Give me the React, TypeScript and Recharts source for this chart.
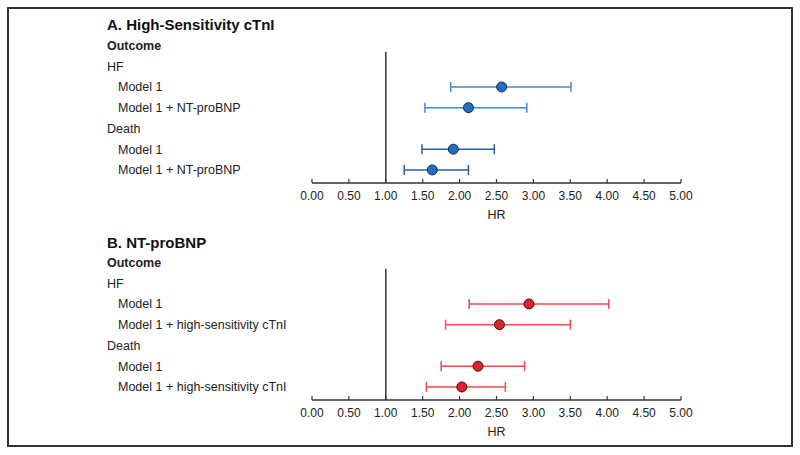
import React from "react";
import { ScatterChart, Scatter, XAxis, YAxis, ErrorBar, ReferenceLine } from "recharts";

const HR_TICKS = [0, 0.5, 1, 1.5, 2, 2.5, 3, 3.5, 4, 4.5, 5];

// row index of each label, top to bottom
const ROWS = [0, 1, 2, 3, 4, 5, 6];
const EST_ROWS = [2, 3, 5, 6];

const LABELS_A = ["Outcome", "HF", "Model 1", "Model 1 + NT-proBNP", "Death", "Model 1", "Model 1 + NT-proBNP"];
const LABELS_B = ["Outcome", "HF", "Model 1", "Model 1 + high-sensitivity cTnI", "Death", "Model 1", "Model 1 + high-sensitivity cTnI"];

const HR_A = [2.57, 2.12, 1.915, 1.63];
const LO_A = [1.88, 1.53, 1.49, 1.25];
const HI_A = [3.51, 2.91, 2.47, 2.12];

const HR_B = [2.94, 2.54, 2.25, 2.03];
const LO_B = [2.13, 1.81, 1.75, 1.55];
const HI_B = [4.02, 3.5, 2.88, 2.62];

const FONT = '"Liberation Sans", Arial, sans-serif';
const INK = "#222";

const toRows = (hr: number[], lo: number[], hi: number[]) =>
  hr.map((v, i) => ({ row: EST_ROWS[i], hr: v, err: [v - lo[i], hi[i] - v] }));

function RowTick({ x, y, payload, labels }: any) {
  const i = payload.value;
  const header = i === 0 || i === 1 || i === 4;
  return (
    <text
      x={header ? 98 : 109}
      y={y}
      dy="0.35em"
      textAnchor="start"
      fontFamily={FONT}
      fontSize={12.5}
      fontWeight={i === 0 ? 700 : 400}
      fill={INK}
    >
      {labels[i]}
    </text>
  );
}

function Dot({ cx, cy, fill, edge }: any) {
  return <circle cx={cx} cy={cy} r={5} fill={fill} stroke={edge} strokeWidth={1} />;
}

interface PanelProps {
  labels: string[];
  hr: number[];
  lo: number[];
  hi: number[];
  lineTop: string;
  lineBottom: string;
  dot: string;
  edge: string;
}

function ForestPanel({ labels, hr, lo, hi, lineTop, lineBottom, dot, edge }: PanelProps) {
  const data = toRows(hr, lo, hi);
  const hf = data.slice(0, 2);
  const death = data.slice(2);
  return (
    <ScatterChart width={782} height={217} margin={{ top: 24, right: 110, bottom: 0, left: 0 }}>
      <XAxis
        type="number"
        dataKey="hr"
        domain={[0, 5]}
        ticks={HR_TICKS}
        tickFormatter={(v: number) => v.toFixed(2)}
        allowDataOverflow
        height={43}
        tickSize={-4}
        tickMargin={12}
        axisLine={{ stroke: "#333", strokeWidth: 1.5 }}
        tickLine={{ stroke: "#333", strokeWidth: 1.2 }}
        tick={{ fill: INK, fontSize: 12, fontFamily: FONT }}
        interval={0}
        label={{ value: "HR", position: "insideBottom", offset: 7, fill: INK, fontSize: 12.5, fontFamily: FONT }}
      />
      <YAxis
        type="number"
        dataKey="row"
        domain={[-0.6, 6.63]}
        ticks={ROWS}
        reversed
        interval={0}
        width={303}
        axisLine={false}
        tickLine={false}
        tick={<RowTick labels={labels} />}
      />
      <ReferenceLine
        segment={[{ x: 1, y: 0.3 }, { x: 1, y: 6.63 }]}
        stroke="#333"
        strokeWidth={1.5}
      />
      <Scatter data={hf} isAnimationActive={false} shape={<Dot fill={dot} edge={edge} />}>
        <ErrorBar dataKey="err" direction="x" width={5} stroke={lineTop} strokeWidth={1.5} />
      </Scatter>
      <Scatter data={death} isAnimationActive={false} shape={<Dot fill={dot} edge={edge} />}>
        <ErrorBar dataKey="err" direction="x" width={5} stroke={lineBottom} strokeWidth={1.5} />
      </Scatter>
    </ScatterChart>
  );
}

const titleStyle: React.CSSProperties = {
  position: "absolute",
  left: 98,
  fontFamily: FONT,
  fontSize: 15,
  fontWeight: 700,
  lineHeight: "18px",
  color: "#111",
};

export default function App() {
  return (
    <div
      style={{
        position: "absolute",
        left: 7,
        top: 7,
        width: 786,
        height: 440,
        border: "2px solid #333",
        boxSizing: "border-box",
        background: "#fff",
      }}
    >
      <div style={{ position: "absolute", left: 0, top: 0 }}>
        <ForestPanel
          labels={LABELS_A}
          hr={HR_A}
          lo={LO_A}
          hi={HI_A}
          lineTop="#3f8bd6"
          lineBottom="#2b5d9e"
          dot="#1f6fc0"
          edge="#1b2b45"
        />
      </div>
      <div style={{ position: "absolute", left: 0, top: 217 }}>
        <ForestPanel
          labels={LABELS_B}
          hr={HR_B}
          lo={LO_B}
          hi={HI_B}
          lineTop="#f04a4c"
          lineBottom="#f04a4c"
          dot="#e2222a"
          edge="#3a1212"
        />
      </div>
      <div style={{ ...titleStyle, top: 7 }}>A. High-Sensitivity cTnI</div>
      <div style={{ ...titleStyle, top: 225 }}>B. NT-proBNP</div>
    </div>
  );
}
